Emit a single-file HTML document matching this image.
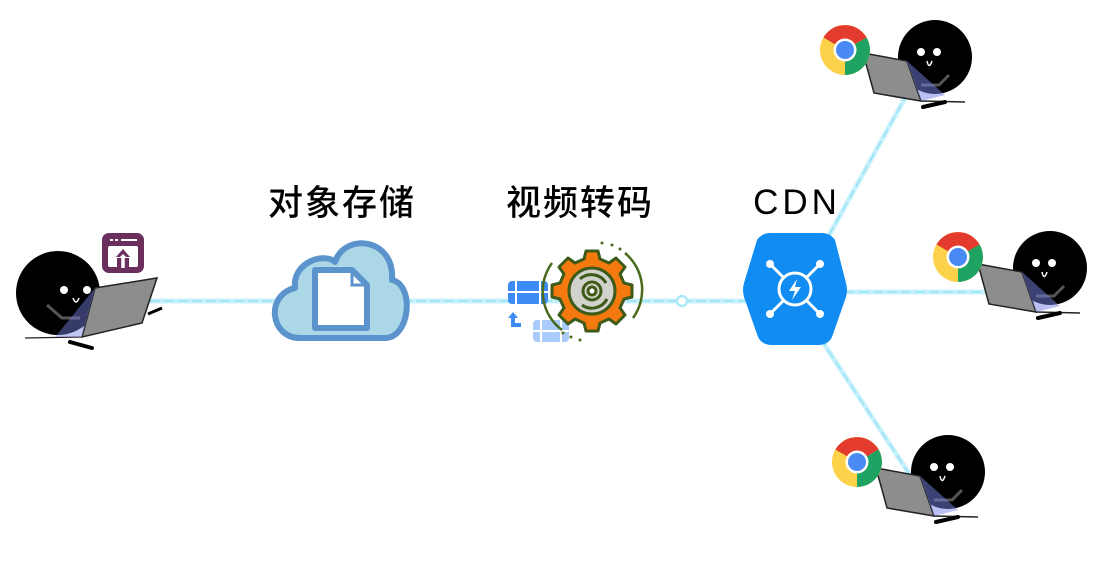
<!DOCTYPE html>
<html><head><meta charset="utf-8"><style>
html,body{margin:0;padding:0;background:#fff;width:1102px;height:564px;overflow:hidden}
svg{display:block}
text{font-family:"Liberation Sans","Noto Sans CJK SC",sans-serif;font-weight:500}
</style></head><body>
<svg width="1102" height="564" viewBox="0 0 1102 564" xmlns="http://www.w3.org/2000/svg">
<defs>
<g id="chrome">
<circle r="25" fill="#fbd24a"/>
<path d="M0,0 L-21.6,-12.5 A25,25 0 0 1 21.6,-12.5 Z" fill="#e33b2e"/>
<path d="M0,0 L21.6,-12.5 A25,25 0 0 1 0,25 Z" fill="#1ea362"/>
<circle r="11.5" fill="#fff"/>
<circle r="9" fill="#4a8af4"/>
</g>
<g id="ruser">
<circle r="37" fill="#000"/>
<circle cx="-14" cy="-5" r="4" fill="#fff"/>
<circle cx="2" cy="-5" r="4" fill="#fff"/>
<path d="M-8,4 q2,9 5,0" stroke="#fff" stroke-width="1.5" fill="none"/>
<path d="M-14,28 L4,28 L14,18" stroke="#555" stroke-width="3" fill="none"/>
<polygon points="-72,-4 -28,4 -14,44 -61,36" fill="#8d8d8d" stroke="#222" stroke-width="1.5"/>
<path d="M-14,44 L30,45" stroke="#222" stroke-width="1.5"/>
<path d="M-28,4 L-14,44 L10,38" fill="rgba(120,130,230,0.5)"/>
<path d="M-12,50 L10,45" stroke="#000" stroke-width="4" stroke-linecap="round"/>
<path d="M-72,-4 L-76,4" stroke="#222" stroke-width="1.5"/>
</g>
</defs>
<g stroke="#c8f1fb" stroke-width="5" fill="none" stroke-linecap="round">
<path d="M150,301 L745,301"/>
<path d="M822,248 L905,98"/>
<path d="M845,292 L1020,292"/>
<path d="M820,338 L910,475"/>
</g>
<g stroke="#7fdcf5" stroke-width="1" fill="none" stroke-dasharray="10 4">
<path d="M150,301 L745,301"/>
<path d="M822,248 L905,98"/>
<path d="M845,292 L1020,292"/>
<path d="M820,338 L910,475"/>
</g>
<circle cx="682" cy="301" r="5" fill="#fff" stroke="#aeeafa" stroke-width="2.5"/>

<g>
<circle cx="58" cy="293" r="42" fill="#000"/>
<circle cx="64" cy="290" r="4" fill="#fff"/>
<circle cx="87" cy="290" r="4" fill="#fff"/>
<path d="M73,298 q3,8 6,0" stroke="#fff" stroke-width="1.5" fill="none"/>
<path d="M47,305 L62,318 L80,318" stroke="#555" stroke-width="3" fill="none"/>
<polygon points="95,288 157,278 142,323 82,337" fill="#8d8d8d" stroke="#222" stroke-width="1.5"/>
<path d="M82,337 L25,338" stroke="#222" stroke-width="1.2"/>
<path d="M95,288 L82,337 L55,337" fill="rgba(120,130,230,0.45)"/>
<path d="M70,342 L92,348" stroke="#000" stroke-width="4" stroke-linecap="round"/>
<path d="M148,314 L162,308" stroke="#000" stroke-width="3"/>
<rect x="102" y="233" width="42" height="40" rx="7" fill="#6b2f5e"/>
<rect x="108" y="246" width="30" height="21" rx="2" fill="#fff"/>
<rect x="110" y="239" width="3" height="2" fill="#fff"/><rect x="115" y="239" width="3" height="2" fill="#fff"/><rect x="121" y="239" width="16" height="2" fill="#fff"/>
<rect x="117" y="258" width="12" height="11" fill="#6b2f5e"/>
<path d="M123,268 L123,256" stroke="#fff" stroke-width="3.5" fill="none"/>
<path d="M123,249 L116,257 L130,257 Z" fill="#6b2f5e"/>
<path d="M123,254 L119,258 L127,258 Z" fill="#fff"/>
</g>

<text x="342" y="215" font-size="35" text-anchor="middle" letter-spacing="2">对象存储</text>
<text x="580" y="215" font-size="35" text-anchor="middle" letter-spacing="2">视频转码</text>
<text x="797" y="214" font-size="35" text-anchor="middle" letter-spacing="4">CDN</text>

<path d="M300,338 C270,338 265,295 295,288 C292,262 325,252 335,262 C345,232 395,238 392,280 C415,285 410,338 385,338 Z" fill="#abd7e6" stroke="#5b93cd" stroke-width="6" stroke-linejoin="round"/>
<path d="M315,270 L352,270 L367,285 L367,328 L315,328 Z" fill="#fff" stroke="#5b93cd" stroke-width="6" stroke-linejoin="round"/>
<path d="M352,270 L352,285 L367,285" fill="none" stroke="#5b93cd" stroke-width="3"/>

<g>
<rect x="508" y="281" width="40" height="23" rx="4" fill="#3d8cf5"/>
<path d="M516,281v23M540,281v23M508,292h40" stroke="#fff" stroke-width="2"/>
<rect x="533" y="320" width="36" height="22" rx="4" fill="#a9cbfb"/>
<path d="M541,320v22M561,320v22M533,331h36" stroke="#fff" stroke-width="2"/>
<path d="M513,315 v10 h8" stroke="#3d8cf5" stroke-width="4" fill="none"/>
<path d="M508,318 l5,-6 l5,6z" fill="#3d8cf5"/>
<path d="M552,263 A48,48 0 0 0 562,330" stroke="#4a6a1e" stroke-width="2.5" fill="none"/>
<path d="M625,253 A48,48 0 0 1 633,318" stroke="#4a6a1e" stroke-width="2.5" fill="none"/>
<circle cx="602" cy="243" r="1.5" fill="#4a6a1e"/><circle cx="612" cy="245" r="1.5" fill="#4a6a1e"/><circle cx="620" cy="249" r="1.5" fill="#4a6a1e"/>
<circle cx="563" cy="333" r="1.5" fill="#4a6a1e"/><circle cx="571" cy="337" r="1.5" fill="#4a6a1e"/><circle cx="580" cy="340" r="1.5" fill="#4a6a1e"/>
<g transform="translate(592,291)" stroke="#3d5a18" stroke-width="3" fill="#f47a10">
<path d="M-6,-40 h12 l2,8 l9,4 l7,-5 l9,9 l-5,7 l4,9 l8,2 v12 l-8,2 l-4,9 l5,7 l-9,9 l-7,-5 l-9,4 l-2,8 h-12 l-2,-8 l-9,-4 l-7,5 l-9,-9 l5,-7 l-4,-9 l-8,-2 v-12 l8,-2 l4,-9 l-5,-7 l9,-9 l7,5 l9,-4 z" stroke-linejoin="round"/>
<circle r="23" fill="#d2d2cc"/>
<path d="M-12,-12 A17,17 0 0 1 14,-8 M15,8 A17,17 0 0 1 -10,14" fill="none"/>
<circle r="9" fill="#d2d2cc"/>
<circle r="4" fill="#fff"/>
</g>
</g>

<path d="M770,233 L822,233 Q830,233 835,240 L846,283 Q848,290 846,297 L832,337 Q828,345 818,345 L772,345 Q762,345 758,337 L744,297 Q742,290 744,283 L757,240 Q762,233 770,233 Z" fill="#108cf2"/>
<g stroke="#fff" stroke-width="3" fill="none">
<circle cx="795" cy="289" r="16"/>
<path d="M784,278 L772,266 M806,278 L818,266 M784,300 L772,312 M806,300 L818,312"/>
</g>
<g fill="#fff"><circle cx="770" cy="264" r="4"/><circle cx="820" cy="264" r="4"/><circle cx="770" cy="314" r="4"/><circle cx="820" cy="314" r="4"/></g>
<path d="M797,279 L789,291 L795,291 L792,300 L801,287 L795,287 Z" fill="#fff"/>

<use href="#ruser" x="935" y="57"/>
<use href="#chrome" x="845" y="50"/>
<use href="#ruser" x="1050" y="268"/>
<use href="#chrome" x="958" y="257"/>
<use href="#ruser" x="948" y="472"/>
<use href="#chrome" x="857" y="462"/>
</svg>
</body></html>
